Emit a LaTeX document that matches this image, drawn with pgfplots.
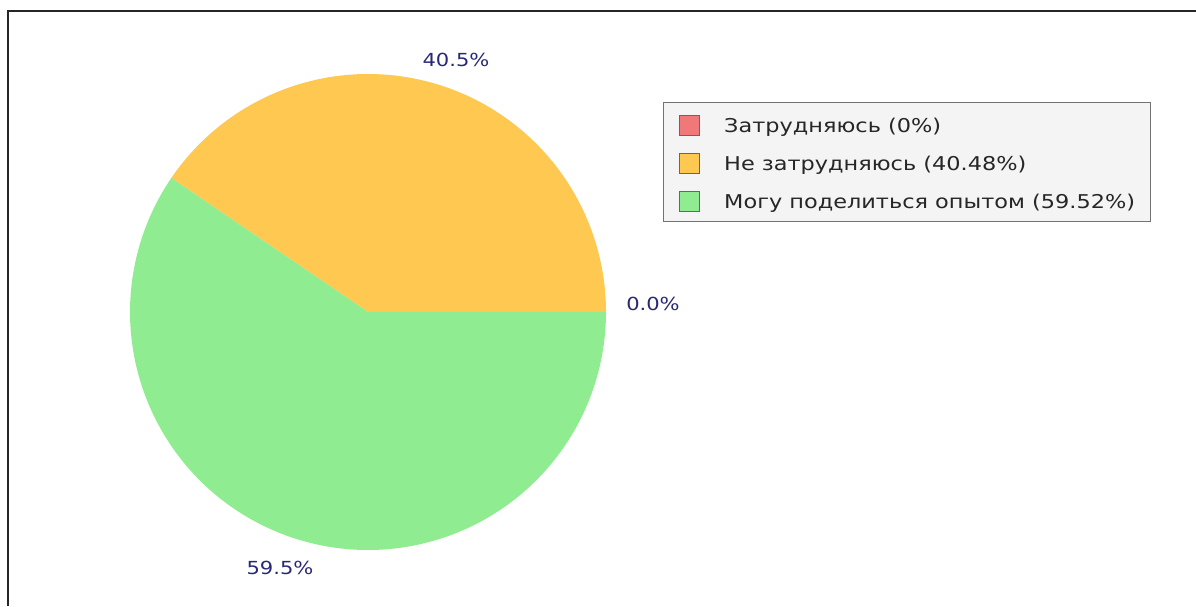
\documentclass[border=0pt]{standalone}
\usepackage{fontspec}
\setmainfont{DejaVu Sans}
\newfontfamily\labelfont[FakeStretch=1.17]{DejaVu Sans}
\newfontfamily\legendfont[FakeStretch=1.18]{DejaVu Sans}
\usepackage{pgfplots}
\pgfplotsset{compat=1.18}

\definecolor{sliceRed}{RGB}{240,120,120}
\definecolor{sliceOrange}{RGB}{255,200,80}
\definecolor{sliceGreen}{RGB}{144,236,144}
\definecolor{labelBlue}{RGB}{40,40,120}
\definecolor{legendBg}{RGB}{244,244,244}

\begin{document}
\begin{tikzpicture}
\useasboundingbox (0,0) rectangle (1196pt,606pt);
\begin{axis}[
    x=1pt, y=1pt,
    xmin=0, xmax=1196, ymin=0, ymax=606,
    hide axis,
    clip=false,
    at={(0,0)}, anchor=south west,
    ]
    % pie: centre (368,294), radius 238; shares in percent
    % Затрудняюсь 0, Не затрудняюсь 40.48, Могу поделиться опытом 59.52
    \addplot[draw=none, fill=sliceOrange, domain=0:40.48, samples=120, variable=\t]
        ({368+238*cos(3.6*t)}, {294+238*sin(3.6*t)}) -- (axis cs:368,294) -- cycle;
    \addplot[draw=none, fill=sliceGreen, domain=40.48:100, samples=180, variable=\t]
        ({368+238*cos(3.6*t)}, {294+238*sin(3.6*t)}) -- (axis cs:368,294) -- cycle;

    % frame (top and left edges)
    \draw[line width=2pt, black!85] (axis cs:1196,595) -- (axis cs:8,595) -- (axis cs:8,0);

    % slice labels
    \begin{scope}[every node/.style={anchor=base, inner sep=0pt, text=labelBlue,
        font=\labelfont\fontsize{18}{20}\selectfont}]
    \node at (axis cs:456,539) {40.5\%};
    \node at (axis cs:653,296) {0.0\%};
    \node at (axis cs:280,32) {59.5\%};
    \end{scope}

    % legend
    \draw[fill=legendBg, draw=black!55] (axis cs:663,504) rectangle (axis cs:1150,385);
    \begin{scope}[every node/.style={anchor=base west, inner sep=0pt, text=black!85,
        font=\legendfont\fontsize{19}{22}\selectfont}]
    \draw[fill=sliceRed, draw=black!60] (axis cs:679,471) rectangle (axis cs:699,491);
    \node at (axis cs:724,473.5) {Затрудняюсь (0\%)};
    \draw[fill=sliceOrange, draw=black!60] (axis cs:679,433) rectangle (axis cs:699,453);
    \node at (axis cs:724,435.5) {Не затрудняюсь (40.48\%)};
    \draw[fill=sliceGreen, draw=black!60] (axis cs:679,395) rectangle (axis cs:699,415);
    \node at (axis cs:724,397.5) {Могу поделиться опытом (59.52\%)};
    \end{scope}
\end{axis}
\end{tikzpicture}
\end{document}
